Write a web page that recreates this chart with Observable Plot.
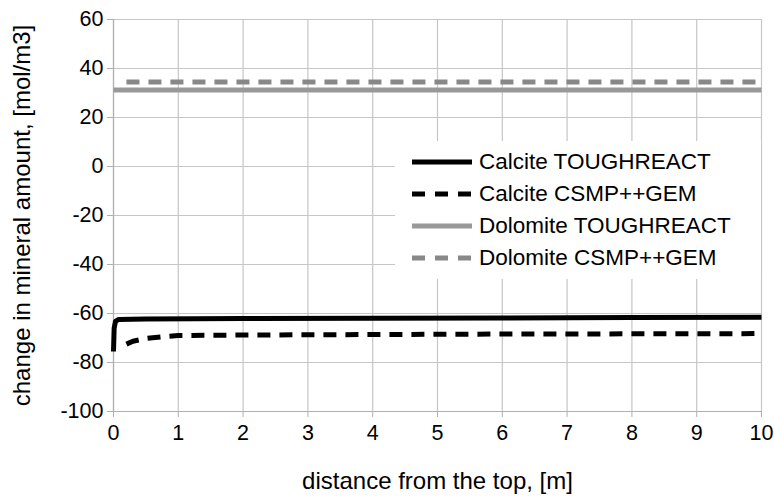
<!DOCTYPE html>
<html>
<head>
<meta charset="utf-8">
<script src="https://cdn.jsdelivr.net/npm/d3@7"></script>
<script src="https://cdn.jsdelivr.net/npm/@observablehq/plot@0.6"></script>
<style>
  html, body { margin: 0; padding: 0; background: #fff; }
  #wrap { position: relative; width: 774px; height: 500px; font-family: "Liberation Sans", Arial, sans-serif; }
  #legend { position: absolute; left: 395px; top: 141px; width: 366px; height: 138px; background: #fff; }
  .row { position: absolute; left: 0; height: 30px; display: flex; align-items: center; font-size: 22.5px; color: #000; }
  .row svg { margin-left: 17px; margin-right: 7px; }
</style>
</head>
<body>
<div id="wrap"></div>
<script>
// Distance from the top (m) and change in mineral amount (mol/m3)
const calciteTR_x = [0, 0.01, 0.03, 0.08, 0.5, 2, 4, 6, 8, 10];
const calciteTR_y = [-75.5, -66, -63.2, -62.4, -62.2, -62.0, -61.9, -61.8, -61.6, -61.5];

const calciteGEM_x = [0.2, 0.3, 0.5, 0.8, 1, 2, 4, 6, 8, 10];
const calciteGEM_y = [-72.5, -71.3, -70.2, -69.4, -69.0, -68.8, -68.6, -68.4, -68.3, -68.2];

const dolomiteTR_x = [0, 2, 4, 6, 8, 10];
const dolomiteTR_y = [31.2, 31.2, 31.2, 31.2, 31.2, 31.2];

const dolomiteGEM_x = [0.2, 2, 4, 6, 8, 10];
const dolomiteGEM_y = [34.5, 34.5, 34.5, 34.5, 34.5, 34.5];

const seriesNames = ["Calcite TOUGHREACT", "Calcite CSMP++GEM", "Dolomite TOUGHREACT", "Dolomite CSMP++GEM"];
const seriesColors = ["#000000", "#000000", "#999999", "#888888"];
const seriesDash = [null, "13,9", null, "13,9"];

const xTicks = [0, 1, 2, 3, 4, 5, 6, 7, 8, 9, 10];
const yTicks = [-100, -80, -60, -40, -20, 0, 20, 40, 60];

const toRows = (xs, ys) => xs.map((x, i) => ({x, y: ys[i]}));
const series = [
  toRows(calciteTR_x, calciteTR_y),
  toRows(calciteGEM_x, calciteGEM_y),
  toRows(dolomiteTR_x, dolomiteTR_y),
  toRows(dolomiteGEM_x, dolomiteGEM_y)
];

const lineMarks = series.map((rows, i) =>
  Plot.line(rows, {
    x: "x", y: "y",
    stroke: seriesColors[i],
    strokeWidth: 5,
    strokeDasharray: seriesDash[i],
    strokeLinejoin: "round",
    strokeLinecap: "butt"
  })
);

// plain hyphen for negative numbers
const fmt = d => String(d);

const chart = Plot.plot({
  width: 774,
  height: 500,
  marginLeft: 113,
  marginRight: 13,
  marginTop: 19,
  marginBottom: 89,
  style: { fontFamily: "Liberation Sans, Arial, sans-serif", fontSize: "21px", background: "#fff", color: "#000" },
  x: { domain: [0, 10] },
  y: { domain: [-100, 60] },
  marks: [
    Plot.gridX(xTicks, { stroke: "#c6c6c6", strokeOpacity: 1, strokeWidth: 1.2 }),
    Plot.gridY(yTicks, { stroke: "#c6c6c6", strokeOpacity: 1, strokeWidth: 1.2 }),
    Plot.axisX(xTicks, { tickSize: 6, tickPadding: 7, stroke: "#b0b0b0", fill: "#000", fontSize: 21.5, tickFormat: fmt, label: null }),
    Plot.axisY(yTicks, { tickSize: 6, tickPadding: 4, stroke: "#b0b0b0", fill: "#000", fontSize: 21.5, tickFormat: fmt, label: null }),
    Plot.ruleX([0], { stroke: "#b0b0b0", strokeWidth: 1.2 }),
    Plot.ruleY([-100], { stroke: "#b0b0b0", strokeWidth: 1.2 }),
    ...lineMarks,
    Plot.text(["distance from the top, [m]"], { frameAnchor: "bottom", dy: 77, fontSize: 24, fill: "#000" }),
    Plot.text(["change in mineral amount, [mol/m3]"], { frameAnchor: "left", dx: -91, rotate: -90, textAnchor: "middle", fontSize: 24, fill: "#000" })
  ]
});

const wrap = document.getElementById("wrap");
wrap.appendChild(chart);

// Legend box inside the plot area
const legend = document.createElement("div");
legend.id = "legend";
const rowTops = [6, 38, 70, 102];
seriesNames.forEach((name, i) => {
  const row = document.createElement("div");
  row.className = "row";
  row.style.top = rowTops[i] + "px";
  const sw = d3.create("svg").attr("width", 60).attr("height", 10);
  sw.append("line")
    .attr("x1", 0).attr("x2", 60).attr("y1", 5).attr("y2", 5)
    .attr("stroke", seriesColors[i]).attr("stroke-width", 5)
    .attr("stroke-dasharray", seriesDash[i] ? "13,10" : null);
  row.appendChild(sw.node());
  const label = document.createElement("span");
  label.textContent = name;
  row.appendChild(label);
  legend.appendChild(row);
});
wrap.appendChild(legend);
</script>
</body>
</html>
